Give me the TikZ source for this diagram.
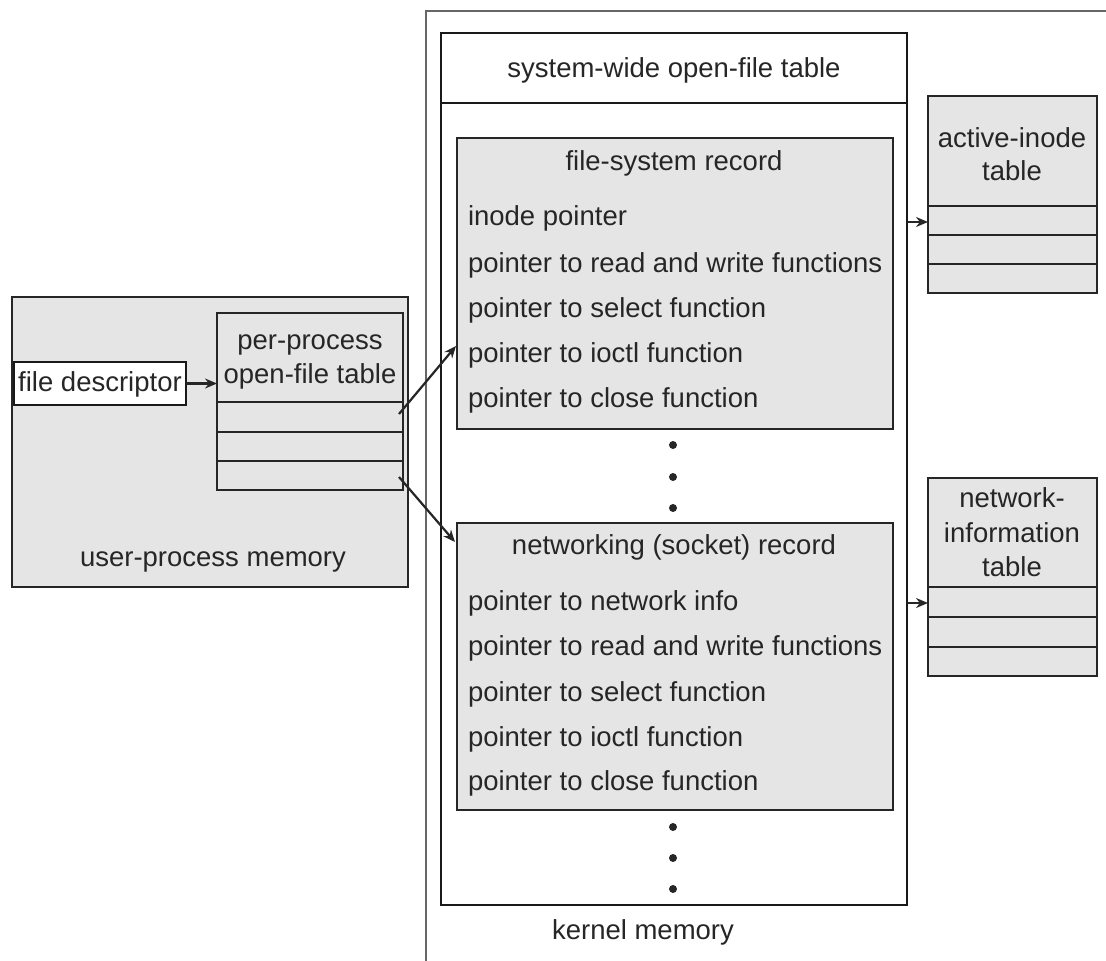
\documentclass[tikz,border=0pt]{standalone}
\usepackage{fontspec}
\setmainfont{Liberation Sans}
\usetikzlibrary{arrows.meta}
\begin{document}
\begin{tikzpicture}[x=1pt,y=-1pt,
  every node/.style={inner sep=0pt, outer sep=0pt, text=black!85, font=\fontsize{27.5}{33}\selectfont},
  shaded/.style={draw=black!85, line width=2pt, fill=gray!20, anchor=north west},
  plainbox/.style={draw=black!90, line width=2.4pt, fill=white, anchor=north west},
  rowline/.style={draw=black!85, line width=2pt},
  arr/.style={-{Stealth[length=12pt,width=10pt]}, line width=2.2pt, draw=black!85},
  dotmark/.style={circle, fill=black!85, minimum size=8pt}
]
\useasboundingbox (0,0) rectangle (1106,961);

% kernel memory frame
\draw[black!60, line width=1.3pt] (426,961) -- (426,11) -- (1106,11);

% user-process memory
\node[shaded, minimum width=396pt, minimum height=290pt] (upm) at (12,297) {};
\node (upmlabel) at (213,562) {user-process memory};
\node[shaded, minimum width=186pt, minimum height=177pt] (ppt) at (217,313) {};
\draw[rowline] (217,402) -- (403,402);
\draw[rowline] (217,432) -- (403,432);
\draw[rowline] (217,461) -- (403,461);
\node (ppt1) at (310,345) {per-process};
\node (ppt2) at (310,376) {open-file table};
\node[plainbox, minimum width=172pt, minimum height=43pt] (fd) at (14,362) {};
\node (fdlabel) at (100,384) {file descriptor};
\draw[arr] (fd.east) -- (ppt.west |- fd.east);

% system-wide open-file table
\node[plainbox, minimum width=466pt, minimum height=872pt] (sw) at (441,33) {};
\draw[line width=2.4pt, black!90] (441,103) -- (907,103);
\node (swlabel) at (674,70) {system-wide open-file table};

% file-system record
\node[shaded, minimum width=436pt, minimum height=291pt] (fsr) at (457,138) {};
\node (fst) at (674,163) {file-system record};
\node[anchor=west] (fs1) at (468,218) {inode pointer};
\node[anchor=west] (fs2) at (468,265) {pointer to read and write functions};
\node[anchor=west] (fs3) at (468,310) {pointer to select function};
\node[anchor=west] (fs4) at (468,355) {pointer to ioctl function};
\node[anchor=west] (fs5) at (468,400) {pointer to close function};

\node[dotmark] (d1) at (673,445) {};
\node[dotmark] (d2) at (673,477) {};
\node[dotmark] (d3) at (673,508) {};

% networking record
\node[shaded, minimum width=436pt, minimum height=287pt] (nr) at (457,523) {};
\node (nrt) at (674,547) {networking (socket) record};
\node[anchor=west] (nr1) at (468,603) {pointer to network info};
\node[anchor=west] (nr2) at (468,648) {pointer to read and write functions};
\node[anchor=west] (nr3) at (468,694) {pointer to select function};
\node[anchor=west] (nr4) at (468,739) {pointer to ioctl function};
\node[anchor=west] (nr5) at (468,783) {pointer to close function};

\node[dotmark] (d4) at (673,827) {};
\node[dotmark] (d5) at (673,858) {};
\node[dotmark] (d6) at (673,889) {};

\node (kml) at (643,932) {kernel memory};

% active-inode table
\node[shaded, minimum width=169pt, minimum height=197pt] (ait) at (928,96) {};
\node (ait1) at (1012,138) {active-inode};
\node (ait2) at (1012,171) {table};
\draw[rowline] (928,206) -- (1097,206);
\draw[rowline] (928,235) -- (1097,235);
\draw[rowline] (928,264) -- (1097,264);

% network-information table
\node[shaded, minimum width=169pt, minimum height=198pt] (nit) at (928,478) {};
\node (nit1) at (1012,498) {network-};
\node (nit2) at (1012,533) {information};
\node (nit3) at (1012,567) {table};
\draw[rowline] (928,587) -- (1097,587);
\draw[rowline] (928,617) -- (1097,617);
\draw[rowline] (928,647) -- (1097,647);

% connectors
\coordinate (aiin) at (928,222);
\coordinate (niin) at (928,603);
\draw[arr] (sw.east |- aiin) -- (aiin);
\draw[arr] (sw.east |- niin) -- (niin);

\coordinate (pprow1) at (399,414);
\coordinate (pprow2) at (399,477);
\coordinate (fsin) at (456,346);
\coordinate (nrin) at (455,542);
\draw[arr] (pprow1) -- (fsin);
\draw[arr] (pprow2) -- (nrin);
\end{tikzpicture}
\end{document}
